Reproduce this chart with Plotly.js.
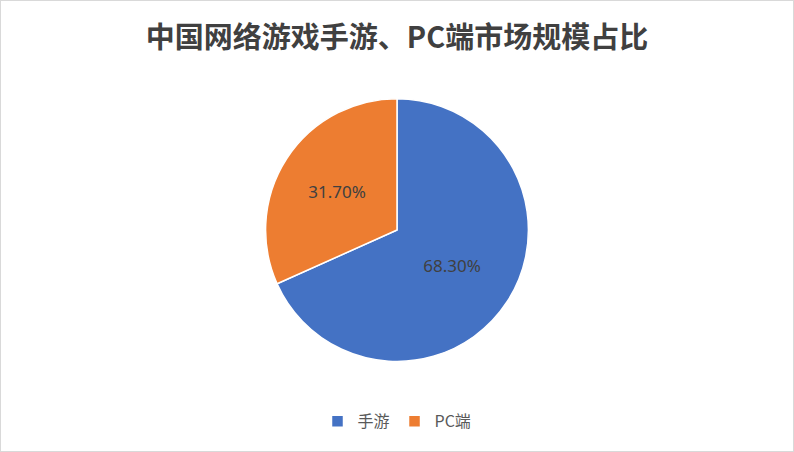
<!DOCTYPE html>
<html>
<head>
<meta charset="utf-8">
<script src="https://cdn.plot.ly/plotly-3.0.1.min.js"></script>
<style>
  html, body { margin: 0; padding: 0; background: #fff; }
  #chart { width: 794px; height: 452px; box-sizing: border-box; border: 1px solid #d9d9d9; }
</style>
</head>
<body>
<div id="chart"></div>
<script>
// 中国网络游戏市场规模占比
var labels = ["手游", "PC端"];
var shares = [68.3, 31.7];
var colors = ["#4472C4", "#ED7D31"];

var trace = {
  type: "pie",
  labels: labels,
  values: shares,
  sort: false,
  direction: "clockwise",
  rotation: 0,
  marker: { colors: colors, line: { color: "#ffffff", width: 1.5 } },
  texttemplate: "%{percent:.2%}",
  textposition: "inside",
  insidetextorientation: "horizontal",
  textfont: { family: "Noto Sans, sans-serif", size: 17, color: "#404040" },
  hoverinfo: "label+percent",
  domain: { x: [0, 1], y: [0.199, 0.783] }
};

var layout = {
  width: 792,
  height: 450,
  margin: { l: 0, r: 0, t: 0, b: 0 },
  paper_bgcolor: "#ffffff",
  font: { family: "Noto Sans CJK SC, sans-serif", color: "#404040" },
  title: {
    text: "中国网络游戏手游、PC端市场规模占比",
    font: { family: "Noto Sans CJK SC, serif", size: 29, color: "#404040", weight: "bold" },
    x: 0.5, xanchor: "center",
    y: 0.918, yanchor: "middle"
  },
  showlegend: true,
  legend: {
    orientation: "h",
    x: 0.5, xanchor: "center",
    y: 0.066, yanchor: "middle",
    itemgap: 0,
    font: { family: "Noto Sans CJK SC, sans-serif", size: 16, color: "#595959" },
    itemwidth: 30
  }
};

Plotly.newPlot("chart", [trace], layout, { displayModeBar: false });
</script>
</body>
</html>
